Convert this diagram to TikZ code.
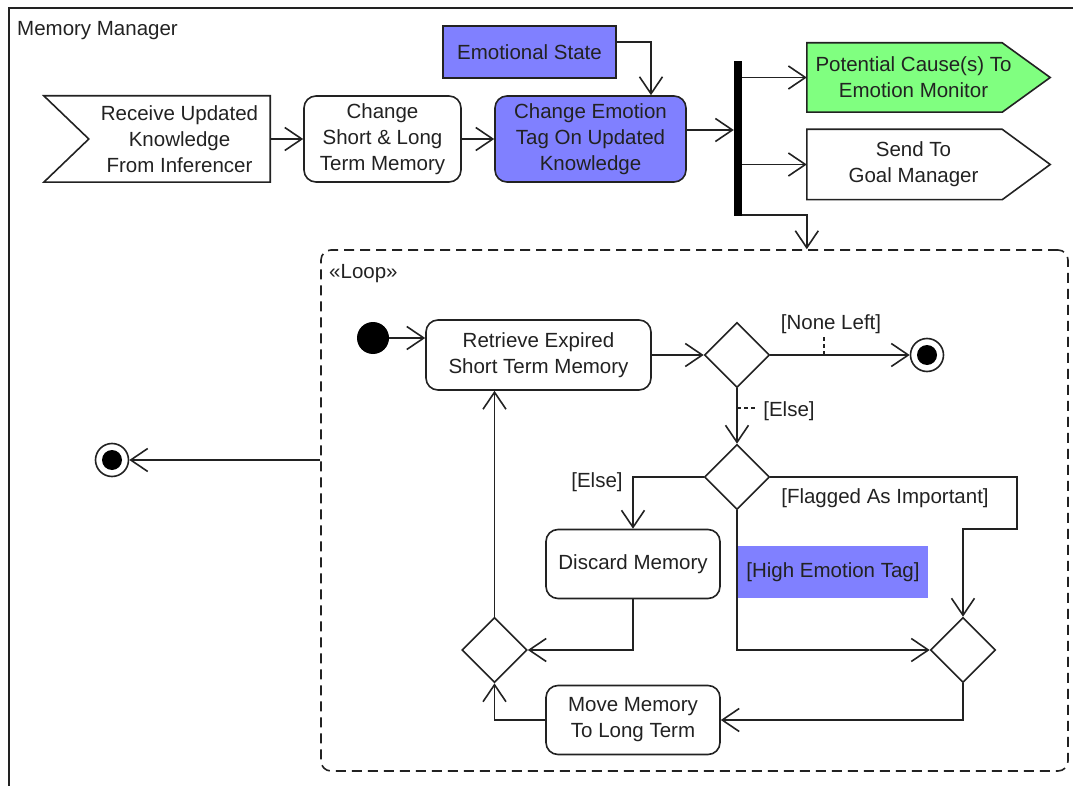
\documentclass[tikz,border=0pt]{standalone}
\usepackage{fontspec}
\setmainfont{Liberation Sans}
\usetikzlibrary{arrows.meta,shapes.geometric,calc,backgrounds}
\definecolor{emoblue}{HTML}{8080FF}
\definecolor{causegreen}{HTML}{80FF80}
\definecolor{ink}{HTML}{222222}

\begin{document}
\begin{tikzpicture}[x=1pt,y=-1pt,
  font=\fontsize{20.5}{26}\selectfont,
  every node/.style={text=ink, align=center, inner sep=0pt},
  line/.style={draw=ink, line width=1.6pt},
  conn/.style={line, -{Straight Barb[length=17pt,width=23pt,line width=1.6pt]}},
  act/.style={line, rounded corners=12pt, fill=white},
  plain/.style={line, fill=white},
  dec/.style={line, diamond, minimum width=65pt, minimum height=65pt, fill=white},
  fin/.style={line, circle, minimum size=33pt, fill=white},
  leader/.style={draw=ink, line width=1.3pt, dash pattern=on 4pt off 3pt}
]
\useasboundingbox (0,0) rectangle (1073,786);

% outer frame of the activity
\draw[line] (9,786) -- (9,8) -- (1073,8);
\node[anchor=west] (title) at (17,31) {Memory Manager};

% loop region
\node[draw=ink, line width=1.6pt, dash pattern=on 10pt off 6pt, rounded corners=10pt,
      minimum width=747pt, minimum height=521pt] (loop) at (694.5,510.5) {};
\node[anchor=west] (looplbl) at (329,274) {«Loop»};

% top row
\node[minimum width=181pt, minimum height=86pt] (recv) at (179.5,139)
  {Receive Updated\\Knowledge\\From Inferencer};
\draw[line] ([xshift=-45pt]recv.north west) -- (recv.north east) -- (recv.south east)
  -- ([xshift=-45pt]recv.south west) -- (recv.west) -- cycle;

\node[act, minimum width=157pt, minimum height=86pt] (chg) at (382.5,139)
  {Change\\Short \& Long\\Term Memory};
\node[act, fill=emoblue, minimum width=191pt, minimum height=86pt] (tag) at (590.5,139)
  {Change Emotion\\Tag On Updated\\Knowledge};
\node[plain, fill=emoblue, minimum width=173pt, minimum height=52pt] (emo) at (529.5,52)
  {Emotional State};

% fork bar
\node[fill=black, minimum width=8pt, minimum height=155pt] (bar) at (738,138.5) {};

% outgoing signals
\node[minimum width=213pt, minimum height=69pt] (pc) at (913.5,77.5)
  {Potential Cause(s) To\\Emotion Monitor};
\begin{scope}[on background layer]
\filldraw[line, fill=causegreen] (pc.north west) -- ([xshift=-18pt]pc.north east)
  -- ([xshift=30pt]pc.east) -- ([xshift=-18pt]pc.south east) -- (pc.south west) -- cycle;
\end{scope}

\node[minimum width=213pt, minimum height=70pt] (gm) at (913.5,164.5)
  {Send To\\Goal Manager};
\draw[line] (gm.north west) -- ([xshift=-18pt]gm.north east) -- ([xshift=30pt]gm.east)
  -- ([xshift=-18pt]gm.south east) -- (gm.south west) -- cycle;

% inside the loop
\node[circle, fill=black, minimum size=32pt] (init) at (373,338) {};
\node[act, minimum width=225pt, minimum height=70pt] (retr) at (538.5,355)
  {Retrieve Expired\\Short Term Memory};
\node[dec] (d1) at (737,355) {};
\node[fin] (fin1) at (927,355) {};
\fill[black] (fin1.center) circle (10pt);
\node[dec] (d2) at (737,477) {};
\node[act, minimum width=174pt, minimum height=69pt] (disc) at (633,564) {Discard Memory};
\node[dec] (d3) at (494.5,650) {};
\node[act, minimum width=174pt, minimum height=69pt] (move) at (633,720)
  {Move Memory\\To Long Term};
\node[dec] (d4) at (963,650) {};
\node[fin] (fin2) at (112,460) {};
\fill[black] (fin2.center) circle (10pt);

% guards
\node (gnone) at (831,324) {[None Left]};
\node (gelse1) at (789,411) {[Else]};
\node (gelse2) at (597,482) {[Else]};
\node (gflag) at (885,498) {[Flagged As Important]};

% connectors of the top row
\draw[conn] (recv.east) -- (chg.west);
\draw[conn] (chg.east) -- (tag.west);
\draw[conn] ($(emo.east)+(0,-10)$) -| ($(tag.north)+(60.5,0)$);
\coordinate (tagout) at ($(tag.east)+(0,-9)$);
\draw[conn] (tagout) -- (tagout -| bar.west);
\draw[conn] (bar.east |- pc.west) -- (pc.west);
\draw[conn] (bar.east |- gm.west) -- (gm.west);
\draw[conn] ($(bar.south east)+(0,-1)$) -| (loop.north -| pc.west);

% connectors inside the loop
\draw[conn] (init) -- (init -| retr.west);
\draw[conn] (retr.east) -- (d1.west);
\draw[conn] (d1.east) -- (fin1.west);
\draw[leader] (824,337) -- (824,355);
\draw[conn] (d1.south) -- (d2.north);
\draw[leader] (737,408) -- (757,408);
\draw[conn] (d2.west) -| (disc.north);
\draw[conn] (disc.south) |- (d3.east);
\draw[conn] (d3.north) -- (d3.north |- retr.south);
\draw[conn] (move.west) -| (d3.south);
\draw[conn] (d2.east) -- ++(246.5,0) -- ++(0,52) -| (d4.north);
\draw[conn] (d2.south) |- (d4.west);
\draw[conn] (d4.south) |- (move.east);
\node[fill=emoblue, minimum width=190pt, minimum height=52pt] (ghigh) at (833,572)
  {[High Emotion Tag]};
\draw[conn] (loop.west |- fin2) -- (fin2.east);
\end{tikzpicture}
\end{document}
